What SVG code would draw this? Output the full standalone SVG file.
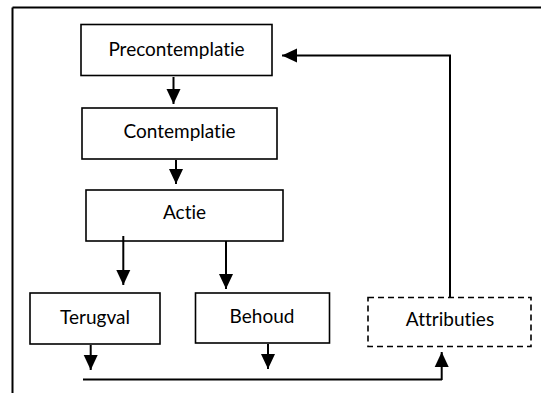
<svg xmlns="http://www.w3.org/2000/svg" width="541" height="393" viewBox="0 0 541 393">
<style>
.box{fill:#fff;stroke:#000;stroke-width:1.6}
.dash{fill:#fff;stroke:#000;stroke-width:1.6;stroke-dasharray:6,4}
.lbl{font-family:Lato,"Open Sans","DejaVu Sans",sans-serif;font-size:19px;fill:#000;text-anchor:middle;font-variant-ligatures:none;font-feature-settings:"liga" 0}
.con{fill:none;stroke:#000;stroke-width:2}
.frame{fill:none;stroke:#000;stroke-width:2}
</style>
<defs>
<marker id="ah" markerUnits="userSpaceOnUse" markerWidth="16" markerHeight="16" viewBox="0 0 16 14" refX="15" refY="7" orient="auto">
<path d="M0,0 L15,7 L0,14 z" fill="#000"/>
</marker>
</defs>
<g id="frame">
<line class="frame" x1="12.5" y1="7.5" x2="541" y2="7.5"/>
<line class="frame" x1="12.5" y1="7.5" x2="12.5" y2="393"/>
</g>
<g id="precontemplatie"><rect class="box" x="81" y="24.5" width="191" height="51"/><text class="lbl" x="176.5" y="56">Precontemplatie</text></g>
<g id="contemplatie"><rect class="box" x="82" y="108" width="195" height="51"/><text class="lbl" x="179.5" y="138">Contemplatie</text></g>
<g id="actie"><rect class="box" x="86" y="190" width="197" height="51"/><text class="lbl" x="184.5" y="219">Actie</text></g>
<g id="terugval"><rect class="box" x="30" y="293" width="130" height="51"/><text class="lbl" x="95" y="324">Terugval</text></g>
<g id="behoud"><rect class="box" x="195.5" y="293" width="134" height="50"/><text class="lbl" x="262" y="323">Behoud</text></g>
<g id="attributies"><rect class="dash" x="368" y="297.5" width="163" height="49"/><text class="lbl" x="450" y="326">Attributies</text></g>
<g id="connectors">
<line class="con" x1="173.5" y1="77" x2="173.5" y2="104" marker-end="url(#ah)"/>
<line class="con" x1="176" y1="160" x2="176" y2="184" marker-end="url(#ah)"/>
<line class="con" x1="123.3" y1="236" x2="123.3" y2="285" marker-end="url(#ah)"/>
<line class="con" x1="226" y1="241" x2="226" y2="289" marker-end="url(#ah)"/>
<line class="con" x1="90.7" y1="345" x2="90.7" y2="370" marker-end="url(#ah)"/>
<line class="con" x1="268" y1="344" x2="268" y2="369" marker-end="url(#ah)"/>
<polyline class="con" points="83,379.5 442,379.5"/>
<line class="con" x1="441.7" y1="380" x2="441.7" y2="352" marker-end="url(#ah)"/>
<polyline class="con" points="450,297 450,55.5 282,55.5" marker-end="url(#ah)"/>
</g>
</svg>
